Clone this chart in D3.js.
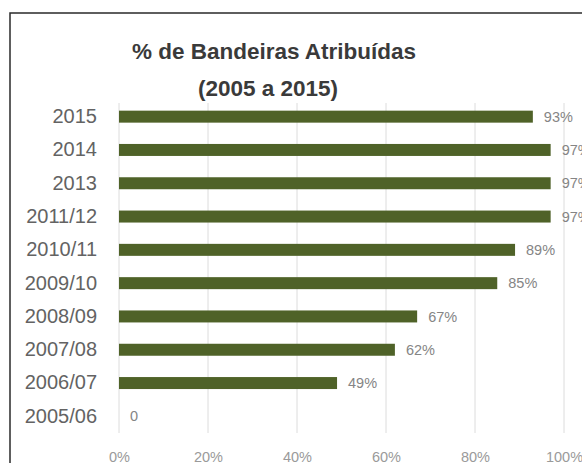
<!DOCTYPE html>
<html>
<head>
<meta charset="utf-8">
<script src="https://cdn.jsdelivr.net/npm/d3@7"></script>
<style>
  html, body { margin: 0; padding: 0; background: #fff; overflow: hidden; }
  svg { display: block; }
</style>
</head>
<body>
<svg id="chart" width="582" height="463"></svg>
<script>
const categories = ["2015", "2014", "2013", "2011/12", "2010/11", "2009/10", "2008/09", "2007/08", "2006/07", "2005/06"];
const values = [93, 97, 97, 97, 89, 85, 67, 62, 49, 0];
const valueLabels = ["93%", "97%", "97%", "97%", "89%", "85%", "67%", "62%", "49%", "0"];
const tickValues = [0, 20, 40, 60, 80, 100];
const tickLabels = ["0%", "20%", "40%", "60%", "80%", "100%"];
const titleLines = ["% de Bandeiras Atribuídas", "(2005 a 2015)"];

const svg = d3.select("#chart");

// chart frame (extends beyond the visible window on right and bottom)
svg.append("rect")
  .attr("x", 10).attr("y", 13)
  .attr("width", 640).attr("height", 500)
  .attr("fill", "#fff")
  .attr("stroke", "#2a2a2a")
  .attr("stroke-width", 1.5);

const x = d3.scaleLinear().domain([0, 100]).range([119, 564]);
const y = d3.scaleBand().domain(categories).range([100, 433])
  .paddingInner(0.64).paddingOuter(0.32);

// gridlines
svg.append("g").selectAll("line")
  .data(tickValues).join("line")
  .attr("x1", d => x(d)).attr("x2", d => x(d))
  .attr("y1", 103).attr("y2", 433)
  .attr("stroke", "#dcdcdc").attr("stroke-width", 1);

// bars
svg.append("g").selectAll("rect")
  .data(values).join("rect")
  .attr("x", x(0))
  .attr("y", (d, i) => y(categories[i]))
  .attr("width", d => x(d) - x(0))
  .attr("height", y.bandwidth())
  .attr("fill", "#4f6228");

// value labels
svg.append("g").selectAll("text")
  .data(values).join("text")
  .attr("x", d => x(d) + 11)
  .attr("y", (d, i) => y(categories[i]) + y.bandwidth() / 2)
  .attr("dy", "0.35em")
  .attr("font-family", "Liberation Sans, Arial, sans-serif")
  .attr("font-size", 14.5)
  .attr("fill", "#858585")
  .text((d, i) => valueLabels[i]);

// category axis
const yAxis = d3.axisLeft(y).tickSize(0).tickPadding(0);
const gy = svg.append("g").attr("transform", "translate(97,0)").call(yAxis);
gy.select(".domain").remove();
gy.selectAll("text")
  .attr("font-family", "Liberation Sans, Arial, sans-serif")
  .attr("font-size", 20)
  .attr("fill", "#636363");

// value axis
const xAxis = d3.axisBottom(x).tickValues(tickValues)
  .tickFormat((d, i) => tickLabels[i]).tickSize(0).tickPadding(0);
const gx = svg.append("g").attr("transform", "translate(0,457)").call(xAxis);
gx.select(".domain").remove();
gx.selectAll("text")
  .attr("dy", "0.35em")
  .attr("font-family", "Liberation Sans, Arial, sans-serif")
  .attr("font-size", 14.5)
  .attr("fill", "#9a9a9a");

// title
svg.append("g").selectAll("text")
  .data(titleLines).join("text")
  .attr("x", (d, i) => i === 0 ? 274 : 268)
  .attr("y", (d, i) => i === 0 ? 59 : 96)
  .attr("text-anchor", "middle")
  .attr("font-family", "Liberation Sans, Arial, sans-serif")
  .attr("font-weight", "bold")
  .attr("font-size", 22.5)
  .attr("fill", "#3a3a3a")
  .text(d => d);
</script>
</body>
</html>
